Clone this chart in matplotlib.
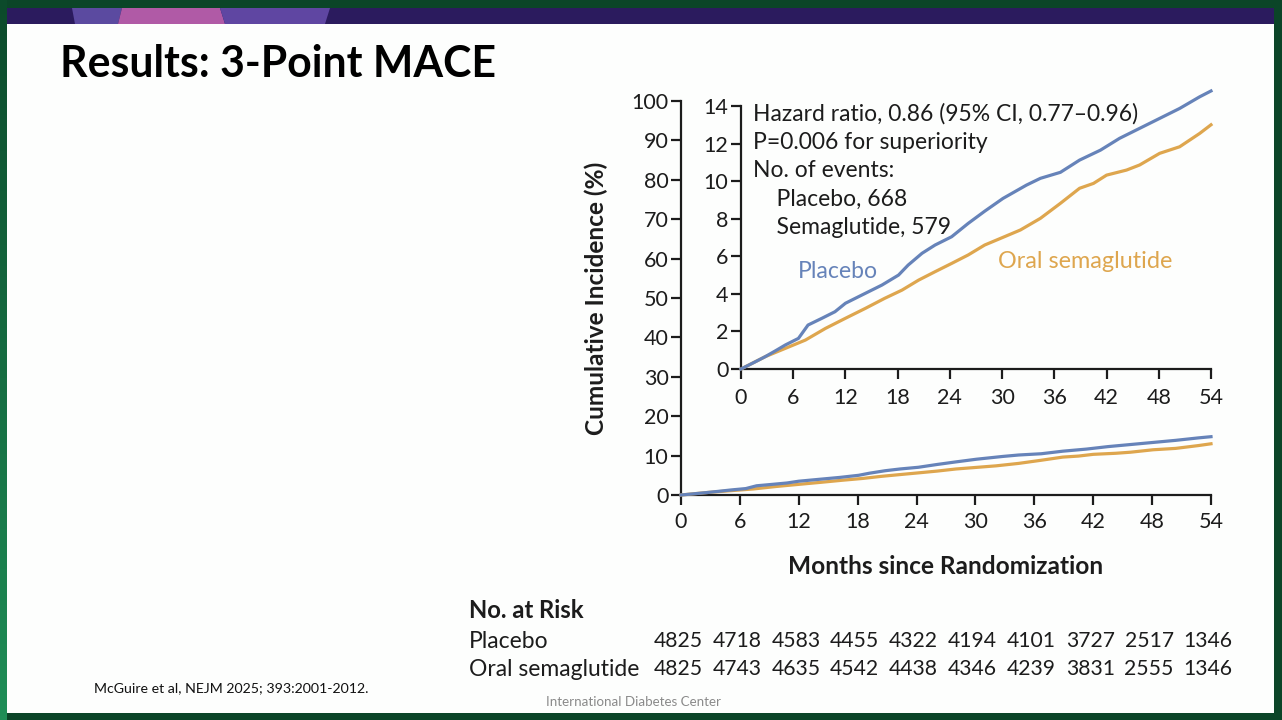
import matplotlib
matplotlib.use("Agg")
import matplotlib.pyplot as plt
from matplotlib.patches import Rectangle, Polygon
from matplotlib.transforms import blended_transform_factory
from matplotlib.colors import LinearSegmentedColormap
import numpy as np

# ---------------- data ----------------
placebo_months = [0, 1.5, 2.8, 4, 5.1, 6.6, 7.7, 9.3, 10.8, 12.0, 13.9, 16.2, 18.1, 19.2, 20.8,
                  22.3, 24.2, 26.1, 28.0, 30.1, 32.8, 34.4, 36.7, 38.9, 41.3, 43.5, 45.8,
                  48.1, 50.4, 52.7, 54]
placebo_values = [0, 0.35, 0.66, 0.98, 1.28, 1.63, 2.34, 2.70, 3.05, 3.50, 3.94, 4.47, 5.00, 5.53,
                  6.16, 6.60, 7.04, 7.75, 8.40, 9.08, 9.79, 10.15, 10.47, 11.12, 11.65, 12.28,
                  12.81, 13.34, 13.87, 14.49, 14.80]
sema_months = [0, 2.8, 5.1, 7.4, 9.7, 12.0, 14.3, 16.5, 18.5, 20.4, 22.3, 24.2, 26.1, 28.0,
               29.8, 32.1, 34.4, 36.7, 38.9, 40.5, 42.0, 44.3, 45.8, 48.1, 50.4, 52.7, 54]
sema_values = [0, 0.66, 1.10, 1.54, 2.16, 2.70, 3.23, 3.76, 4.20, 4.73, 5.18, 5.62, 6.07, 6.60,
               6.95, 7.40, 8.02, 8.82, 9.62, 9.88, 10.32, 10.59, 10.86, 11.48, 11.83, 12.54, 13.0]

x_ticks = [0, 6, 12, 18, 24, 30, 36, 42, 48, 54]
main_y_ticks = [0, 10, 20, 30, 40, 50, 60, 70, 80, 90, 100]
inset_y_ticks = [0, 2, 4, 6, 8, 10, 12, 14]

risk_months = [0, 6, 12, 18, 24, 30, 36, 42, 48, 54]
risk_placebo = [4825, 4718, 4583, 4455, 4322, 4194, 4101, 3727, 2517, 1346]
risk_sema = [4825, 4743, 4635, 4542, 4438, 4346, 4239, 3831, 2555, 1346]

annotation_lines = ["Hazard ratio, 0.86 (95% CI, 0.77\u20130.96)",
                    "P=0.006 for superiority",
                    "No. of events:",
                    "    Placebo, 668",
                    "    Semaglutide, 579"]

BLUE = "#6683b9"
ORANGE = "#dea64e"
TXT = "#1c1c1c"
FONT = "Lato"

W, H = 1282, 720
fig = plt.figure(figsize=(W / 100, H / 100), dpi=100)
fig.patch.set_facecolor("#0b4528")

# ---------------- slide background ----------------
bg = fig.add_axes([0, 0, 1, 1], zorder=-10)
bg.set_xlim(0, W)
bg.set_ylim(H, 0)
bg.axis("off")
grad = np.linspace(0, 1, 200).reshape(-1, 1)
gcm = LinearSegmentedColormap.from_list("g", ["#0c4a2b", "#1f8e57"])
bg.imshow(grad, cmap=gcm, extent=[0, 7, H, 0], aspect="auto", zorder=0)
bg.add_patch(Rectangle((7, 8), 1267, 705, facecolor="#fdfefd", edgecolor="none", zorder=1))
bg.add_patch(Rectangle((7, 8), 1267, 16, facecolor="#2b1b5e", edgecolor="none", zorder=2))
bg.add_patch(Polygon([(72, 8), (122, 8), (118, 24), (75, 24)], closed=True,
                     facecolor="#5b4aa0", edgecolor="none", zorder=3))
bg.add_patch(Polygon([(122, 8), (220, 8), (225, 24), (118, 24)], closed=True,
                     facecolor="#b05aa6", edgecolor="none", zorder=3))
bg.add_patch(Polygon([(220, 8), (330, 8), (325, 24), (225, 24)], closed=True,
                     facecolor="#5f46a2", edgecolor="none", zorder=3))

fig.text(60 / W, 1 - 64 / H, "Results: 3-Point MACE", fontsize=30.8, fontweight="bold",
         family=FONT, color="#000000", va="center", ha="left")
fig.text(94 / W, 1 - 688 / H, "McGuire et al, NEJM 2025; 393:2001-2012.", fontsize=10.2,
         family=FONT, color="#111111", va="center", ha="left")
fig.text(633 / W, 1 - 702 / H, "International Diabetes Center", fontsize=9.6,
         family=FONT, color="#8a8a8a", va="center", ha="center")

# ---------------- main axes ----------------
x0, x1 = 681, 1211
ax = fig.add_axes([x0 / W, 1 - 495 / H, (x1 - x0) / W, (495 - 101) / H])
ax.set_facecolor("none")
ax.set_xlim(0, 54)
ax.set_ylim(0, 100)
for s in ["top", "right"]:
    ax.spines[s].set_visible(False)
for s in ["left", "bottom"]:
    ax.spines[s].set_linewidth(1.6)
    ax.spines[s].set_color(TXT)
ax.set_xticks(x_ticks)
ax.set_yticks(main_y_ticks)
ax.tick_params(direction="out", length=7, width=1.6, color=TXT, labelsize=15.5,
               labelcolor=TXT, pad=2)
ax.tick_params(axis="x", pad=5.5)
for lab in ax.get_xticklabels() + ax.get_yticklabels():
    lab.set_family(FONT)
ax.plot(placebo_months, placebo_values, color=BLUE, lw=2.3, clip_on=False, zorder=4,
        solid_joinstyle="round")
ax.plot(sema_months, sema_values, color=ORANGE, lw=2.3, clip_on=False, zorder=3,
        solid_joinstyle="round")
ax.set_xlabel("Months since Randomization", fontsize=17.6, fontweight="bold", family=FONT,
              color=TXT, labelpad=16)
ax.set_ylabel("Cumulative Incidence (%)", fontsize=17.6, fontweight="bold", family=FONT,
              color=TXT, labelpad=17)

# ---------------- inset axes ----------------
ix0 = 741
iax = fig.add_axes([ix0 / W, 1 - 369 / H, (x1 - ix0) / W, (369 - 106) / H])
iax.set_facecolor("none")
iax.set_xlim(0, 54)
iax.set_ylim(0, 14)
for s in ["top", "right"]:
    iax.spines[s].set_visible(False)
for s in ["left", "bottom"]:
    iax.spines[s].set_linewidth(1.6)
    iax.spines[s].set_color(TXT)
iax.set_xticks(x_ticks)
iax.set_yticks(inset_y_ticks)
iax.tick_params(direction="out", length=7, width=1.6, color=TXT, labelsize=15.5,
                labelcolor=TXT, pad=2)
iax.tick_params(axis="x", pad=7)
for lab in iax.get_xticklabels() + iax.get_yticklabels():
    lab.set_family(FONT)
iax.plot(placebo_months, placebo_values, color=BLUE, lw=2.3, clip_on=False, zorder=4,
         solid_joinstyle="round")
iax.plot(sema_months, sema_values, color=ORANGE, lw=2.3, clip_on=False, zorder=3,
         solid_joinstyle="round")

ytop = 114
for i, line in enumerate(annotation_lines):
    fig.text(753 / W, 1 - (ytop + 28.3 * i) / H, line, fontsize=16.5, family=FONT, color=TXT,
             va="center", ha="left")
fig.text(798 / W, 1 - 272 / H, "Placebo", fontsize=16.6, family=FONT, color=BLUE,
         va="center", ha="left")
fig.text(998 / W, 1 - 261 / H, "Oral semaglutide", fontsize=16.8, family=FONT, color=ORANGE,
         va="center", ha="left")

# ---------------- numbers at risk ----------------
fig.text(469 / W, 1 - 610 / H, "No. at Risk", fontsize=17.2, fontweight="bold", family=FONT,
         color=TXT, va="center", ha="left")
fig.text(469 / W, 1 - 641 / H, "Placebo", fontsize=16.5, family=FONT, color=TXT,
         va="center", ha="left")
fig.text(469 / W, 1 - 669 / H, "Oral semaglutide", fontsize=16.5, family=FONT, color=TXT,
         va="center", ha="left")
btr = blended_transform_factory(ax.transData, fig.transFigure)
for m, p, s in zip(risk_months, risk_placebo, risk_sema):
    ax.text(m - 0.3, 1 - 641 / H, str(p), transform=btr, fontsize=15.2, family=FONT, color=TXT,
            ha="center", va="center", clip_on=False)
    ax.text(m - 0.3, 1 - 669 / H, str(s), transform=btr, fontsize=15.2, family=FONT, color=TXT,
            ha="center", va="center", clip_on=False)

fig.savefig("out.png", dpi=100, facecolor=fig.get_facecolor())
